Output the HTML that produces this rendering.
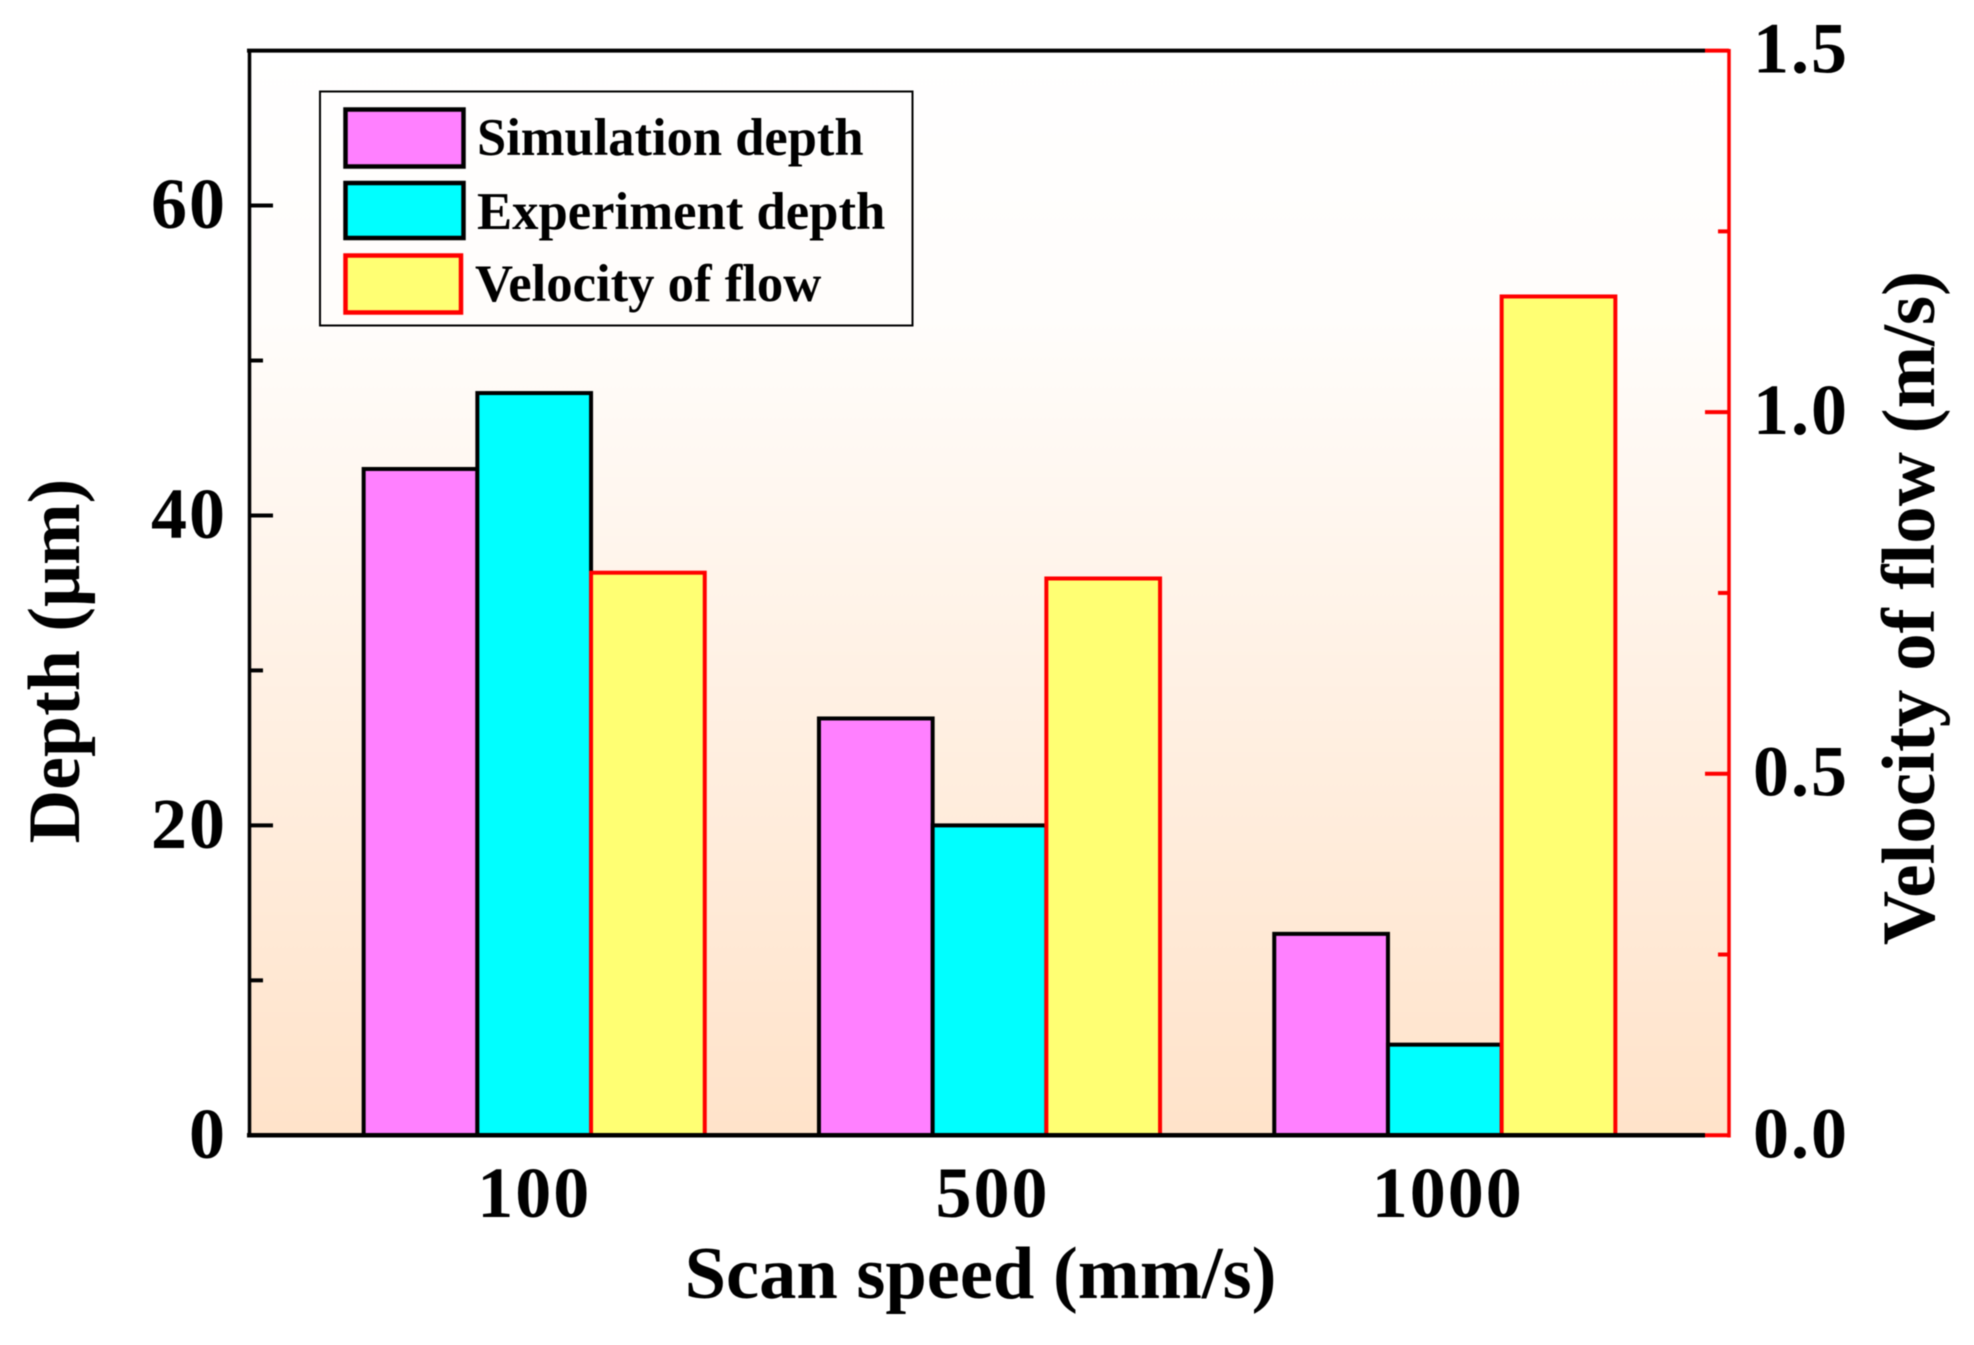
<!DOCTYPE html>
<html lang="en">
<head>
<meta charset="utf-8">
<title>Depth and velocity of flow vs scan speed</title>
<style>
html,body{margin:0;padding:0;background:#fff;}
svg{display:block;filter:blur(0.5px);}
text{font-family:"Liberation Serif",serif;font-weight:bold;fill:#000;}
</style>
</head>
<body>
<svg id="chart" xmlns="http://www.w3.org/2000/svg" width="1974" height="1345" viewBox="0 0 1974 1345">
  <defs>
    <linearGradient id="plotGrad" x1="0" y1="0" x2="0" y2="1">
      <stop offset="0" stop-color="#ffffff"/>
      <stop offset="0.25" stop-color="#fffdfb"/>
      <stop offset="0.55" stop-color="#fff2e6"/>
      <stop offset="1" stop-color="#ffe3ca"/>
    </linearGradient>
  </defs>
  <rect x="249" y="51" width="1480" height="1084" fill="url(#plotGrad)"/>
  <g id="bars"></g>
  <g id="axes">
    <line x1="247" y1="50.6" x2="1705" y2="50.6" stroke="#000" stroke-width="4"/>
    <line x1="249.5" y1="49" x2="249.5" y2="1137" stroke="#000" stroke-width="3.5"/>
    <line x1="247" y1="1135.3" x2="1705" y2="1135.3" stroke="#000" stroke-width="4.5"/>
    <line x1="1729" y1="49" x2="1729" y2="1137.5" stroke="#ff0000" stroke-width="3.5"/>
  </g>
  <g id="ticks"></g>
  <g id="tick-labels"></g>
  <text x="980.5" y="1298" text-anchor="middle" font-size="74.5">Scan speed (mm/s)</text>
  <text transform="translate(79 661) rotate(-90)" text-anchor="middle" font-size="74">Depth (μm)</text>
  <text transform="translate(1934 608) rotate(-90)" text-anchor="middle" font-size="75">Velocity of flow (m/s)</text>
  <g>
    <rect x="320" y="91.5" width="592.5" height="234" fill="none" stroke="#000" stroke-width="2"/>
    <rect x="345.5" y="109.5" width="118" height="57" fill="#ff80ff" stroke="#000" stroke-width="4.5"/>
    <text x="477" y="155" font-size="52.5">Simulation depth</text>
    <rect x="345.5" y="183" width="118" height="55" fill="#00ffff" stroke="#000" stroke-width="4.5"/>
    <text x="477" y="229" font-size="52.7">Experiment depth</text>
    <rect x="345.5" y="255.5" width="115.5" height="57" fill="#ffff73" stroke="#ff0000" stroke-width="4.5"/>
    <text x="475" y="301" font-size="52.7">Velocity of flow</text>
  </g>
</svg>
<script>
var categories = ['100', '500', '1000'];
var simulationDepth = [43, 26.9, 13];
var experimentDepth = [47.9, 20, 5.85];
var velocityOfFlow = [0.778, 0.77, 1.16];
var leftMajorTicks = [0, 20, 40, 60];
var leftMinorTicks = [10, 30, 50];
var rightMajorTicks = ['0.0', '0.5', '1.0', '1.5'];
var rightMinorTicks = [0.25, 0.75, 1.25];

var NS = 'http://www.w3.org/2000/svg';
var AXIS_BOTTOM = 1135.3, AXIS_TOP = 50.6, AXIS_LEFT = 249, AXIS_RIGHT = 1729;
var BAR_WIDTH = 113.7;
function yDepth(v) { return AXIS_BOTTOM - (v / 70) * (AXIS_BOTTOM - AXIS_TOP); }
function yVelocity(v) { return AXIS_BOTTOM - (v / 1.5) * (AXIS_BOTTOM - AXIS_TOP); }
function xBand(i) { return 534.2 + i * 455.3; }

function shape(parent, tag) {
  var el = document.createElementNS(NS, tag);
  parent.appendChild(el);
  return el;
}
function setBar(el, x, top, fill, stroke) {
  el.setAttribute('x', x);
  el.setAttribute('y', top);
  el.setAttribute('width', BAR_WIDTH);
  el.setAttribute('height', AXIS_BOTTOM - top);
  el.setAttribute('fill', fill);
  el.setAttribute('stroke', stroke);
  el.setAttribute('stroke-width', 4);
}
function setTick(el, x1, x2, y, stroke) {
  el.setAttribute('x1', x1);
  el.setAttribute('x2', x2);
  el.setAttribute('y1', y);
  el.setAttribute('y2', y);
  el.setAttribute('stroke', stroke);
  el.setAttribute('stroke-width', 4);
}
function setLabel(el, x, y, anchor, content) {
  el.setAttribute('x', x);
  el.setAttribute('y', y);
  el.setAttribute('text-anchor', anchor);
  el.setAttribute('font-size', 72);
  el.setAttribute('letter-spacing', 2);
  el.textContent = content;
}

var barsG = document.getElementById('bars');
var ticksG = document.getElementById('ticks');
var labelsG = document.getElementById('tick-labels');

categories.forEach(function (cat, i) {
  var cx = xBand(i);

  var simBar = shape(barsG, 'rect');
  
  
  setBar(simBar, cx - 1.5 * BAR_WIDTH, yDepth(simulationDepth[i]), '#ff80ff', '#000');

  var expBar = shape(barsG, 'rect');
  
  
  setBar(expBar, cx - 0.5 * BAR_WIDTH, yDepth(experimentDepth[i]), '#00ffff', '#000');

  var velBar = shape(barsG, 'rect');
  
  
  setBar(velBar, cx + 0.5 * BAR_WIDTH, yVelocity(velocityOfFlow[i]), '#ffff73', '#ff0000');

  var catLabel = shape(labelsG, 'text');
  
  
  setLabel(catLabel, cx + (i === 0 ? 0 : 3), 1217, 'middle', cat);
});

leftMajorTicks.forEach(function (v) {
  var tick = shape(ticksG, 'line');
  
  
  setTick(tick, AXIS_LEFT, AXIS_LEFT + 24, yDepth(v), '#000');

  var label = shape(labelsG, 'text');
  
  
  setLabel(label, 227, yDepth(v) + 22.5, 'end', String(v));
});

leftMinorTicks.forEach(function (v) {
  var tick = shape(ticksG, 'line');
  
  
  setTick(tick, AXIS_LEFT, AXIS_LEFT + 14, yDepth(v), '#000');
});

rightMajorTicks.forEach(function (s) {
  var v = parseFloat(s);
  var tick = shape(ticksG, 'line');
  
  
  setTick(tick, AXIS_RIGHT - 24, AXIS_RIGHT, yVelocity(v), '#ff0000');

  var label = shape(labelsG, 'text');
  
  
  setLabel(label, 1753, yVelocity(v) + 22, 'start', s);
});

rightMinorTicks.forEach(function (v) {
  var tick = shape(ticksG, 'line');
  
  
  setTick(tick, AXIS_RIGHT - 11, AXIS_RIGHT, yVelocity(v), '#ff0000');
});
</script>
</body>
</html>
